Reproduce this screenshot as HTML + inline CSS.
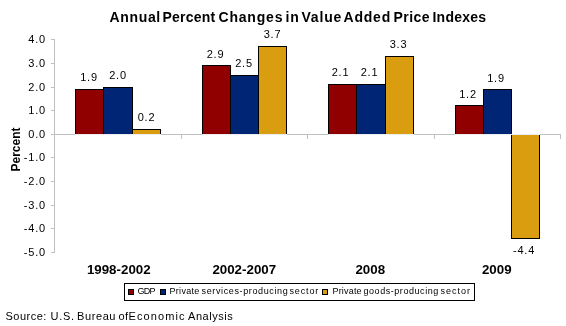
<!DOCTYPE html>
<html><head><meta charset="utf-8"><style>
html,body{margin:0;padding:0;background:#fff;width:566px;height:326px;overflow:hidden}
svg{position:absolute;left:0;top:0;will-change:transform}
.t{font-family:"Liberation Sans",sans-serif;}
</style></head><body>
<svg width="566" height="326" viewBox="0 0 566 326" shape-rendering="crispEdges">
<path d="M54.5 39V253M51 39.5H55M51 63.5H55M51 87.5H55M51 110.5H55M51 157.5H55M51 181.5H55M51 205.5H55M51 228.5H55M51 252.5H55" stroke="#c0c0c0" stroke-width="1" fill="none"/>
<path d="M51 134.5H560M181.5 134V139M307.5 134V139M434.5 134V139M560.5 134V139" stroke="#c0c0c0" stroke-width="1" fill="none"/>
<rect x="75" y="134" width="86" height="1" fill="#eceef2"/>
<rect x="75" y="89" width="29" height="45" fill="#000"/><rect x="76" y="90" width="27" height="44" fill="#910000"/>
<rect x="103" y="87" width="30" height="47" fill="#000"/><rect x="104" y="88" width="28" height="46" fill="#002574"/>
<rect x="132" y="129" width="29" height="5" fill="#000"/><rect x="133" y="130" width="27" height="4" fill="#db9d10"/>
<rect x="202" y="134" width="85" height="1" fill="#eceef2"/>
<rect x="202" y="65" width="29" height="69" fill="#000"/><rect x="203" y="66" width="27" height="68" fill="#910000"/>
<rect x="230" y="75" width="29" height="59" fill="#000"/><rect x="231" y="76" width="27" height="58" fill="#002574"/>
<rect x="258" y="46" width="29" height="88" fill="#000"/><rect x="259" y="47" width="27" height="87" fill="#db9d10"/>
<rect x="328" y="134" width="86" height="1" fill="#eceef2"/>
<rect x="328" y="84" width="29" height="50" fill="#000"/><rect x="329" y="85" width="27" height="49" fill="#910000"/>
<rect x="356" y="84" width="30" height="50" fill="#000"/><rect x="357" y="85" width="28" height="49" fill="#002574"/>
<rect x="385" y="56" width="29" height="78" fill="#000"/><rect x="386" y="57" width="27" height="77" fill="#db9d10"/>
<rect x="455" y="134" width="85" height="1" fill="#eceef2"/>
<rect x="455" y="105" width="29" height="29" fill="#000"/><rect x="456" y="106" width="27" height="28" fill="#910000"/>
<rect x="483" y="89" width="29" height="45" fill="#000"/><rect x="484" y="90" width="27" height="44" fill="#002574"/>
<rect x="511" y="135" width="29" height="104" fill="#000"/><rect x="512" y="135" width="27" height="103" fill="#db9d10"/>
<g font-family="Liberation Sans, sans-serif" font-size="11" text-anchor="end" fill="#000" letter-spacing="0.8">
<text x="46" y="43">4.0</text>
<text x="46" y="67">3.0</text>
<text x="46" y="91">2.0</text>
<text x="46" y="114">1.0</text>
<text x="46" y="138">0.0</text>
<text x="46" y="161">-1.0</text>
<text x="46" y="185">-2.0</text>
<text x="46" y="209">-3.0</text>
<text x="46" y="232">-4.0</text>
<text x="46" y="256">-5.0</text>
</g>
<g font-family="Liberation Sans, sans-serif" font-size="11" text-anchor="middle" fill="#000" letter-spacing="0.8">
<text x="89.0" y="81">1.9</text>
<text x="118.0" y="79">2.0</text>
<text x="146.5" y="121">0.2</text>
<text x="215.5" y="58">2.9</text>
<text x="244.0" y="67">2.5</text>
<text x="272.5" y="38">3.7</text>
<text x="340.5" y="76">2.1</text>
<text x="369.5" y="76">2.1</text>
<text x="398.5" y="48">3.3</text>
<text x="468.0" y="98">1.2</text>
<text x="496.0" y="82">1.9</text>
<text x="524.0" y="254">-4.4</text>
</g>
<g font-family="Liberation Sans, sans-serif" font-weight="bold" font-size="14"><text x="109.5" y="22" letter-spacing="0.66">Annual</text><text x="162.5" y="22" letter-spacing="0.217">Percent</text><text x="218.5" y="22" letter-spacing="0.8">Changes</text><text x="285.5" y="22" letter-spacing="0.8">in</text><text x="301.5" y="22" letter-spacing="0.8">Value</text><text x="343.5" y="22" letter-spacing="0.8">Added</text><text x="393.5" y="22" letter-spacing="0.45">Price</text><text x="432.5" y="22" letter-spacing="0.217">Indexes</text></g>
<text transform="translate(20 149.5) rotate(-90)" font-family="Liberation Sans, sans-serif" font-weight="bold" font-size="12" text-anchor="middle">Percent</text>
<text x="118.75" y="274" font-family="Liberation Sans, sans-serif" font-weight="bold" font-size="13.33" letter-spacing="0" text-anchor="middle">1998-2002</text>
<text x="244.25" y="274" font-family="Liberation Sans, sans-serif" font-weight="bold" font-size="13.33" letter-spacing="0" text-anchor="middle">2002-2007</text>
<text x="370.25" y="274" font-family="Liberation Sans, sans-serif" font-weight="bold" font-size="13.33" letter-spacing="0" text-anchor="middle">2008</text>
<text x="496.75" y="274" font-family="Liberation Sans, sans-serif" font-weight="bold" font-size="13.33" letter-spacing="0" text-anchor="middle">2009</text>
<rect x="124.5" y="283.5" width="350" height="17" fill="#fff" stroke="#000"/>
<rect x="128.5" y="289.5" width="5" height="5" fill="#910000" stroke="#000"/>
<rect x="160.5" y="289.5" width="5" height="5" fill="#002574" stroke="#000"/>
<rect x="322.5" y="289.5" width="5" height="5" fill="#db9d10" stroke="#000"/>
<g font-family="Liberation Sans, sans-serif" font-size="9" fill="#000" letter-spacing="0.3">
<text x="137.5" y="293.5" letter-spacing="-0.75">GDP</text><text x="169.5" y="293.5" letter-spacing="0.3">Private</text><text x="201.5" y="293.5" letter-spacing="0.629">services-producing</text><text x="289.5" y="293.5" letter-spacing="0.86">sector</text><text x="332.5" y="293.5" letter-spacing="0.183">Private</text><text x="363.5" y="293.5" letter-spacing="0.55">goods-producing</text><text x="440.5" y="293.5" letter-spacing="1.0">sector</text>
</g>
<g font-family="Liberation Sans, sans-serif" font-size="11"><text x="5.5" y="319.5" letter-spacing="0.5">Source:</text><text x="50.5" y="319.5" letter-spacing="0.7">U.S.</text><text x="77" y="319.5" letter-spacing="0.6">Bureau</text><text x="118.5" y="319.5" letter-spacing="0.3">of</text><text x="128.5" y="319.5" letter-spacing="1.1">Economic</text><text x="188" y="319.5" letter-spacing="0.55">Analysis</text></g>
</svg></body></html>
